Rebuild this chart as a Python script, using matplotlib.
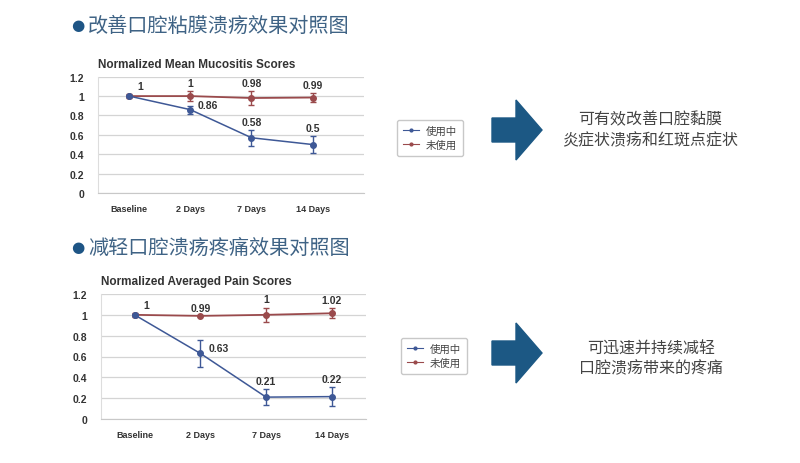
import matplotlib.pyplot as plt
from matplotlib.patches import Polygon
from matplotlib.lines import Line2D

plt.rcParams['font.family'] = ['Noto Sans CJK SC', 'DejaVu Sans']

days = ["Baseline", "2 Days", "7 Days", "14 Days"]

# top chart: mucositis
muco_used = [1, 0.86, 0.57, 0.50]
muco_used_err = [0, 0.04, 0.08, 0.09]
muco_used_lbl = ["", "0.86", "0.58", "0.5"]
muco_none = [1, 1.0, 0.98, 0.985]
muco_none_err = [0.02, 0.05, 0.07, 0.05]
muco_none_lbl = ["1", "1", "0.98", "0.99"]

# bottom chart: pain
pain_used = [1, 0.63, 0.21, 0.215]
pain_used_err = [0, 0.13, 0.08, 0.09]
pain_used_lbl = ["", "0.63", "0.21", "0.22"]
pain_none = [1, 0.99, 1.0, 1.015]
pain_none_err = [0.02, 0.0, 0.07, 0.05]
pain_none_lbl = ["1", "0.99", "1", "1.02"]

legend_names = ["使用中", "未使用"]

BLUE = "#3e5896"
RED = "#9a4a4c"
ARROW = "#1c5884"
LAT = ["Liberation Sans", "DejaVu Sans"]
W, H = 800, 464


def px_axes(fig, left, top, right, bottom):
    return fig.add_axes([left / W, 1 - bottom / H, (right - left) / W, (bottom - top) / H])


def draw_chart(ax, title, used, used_err, used_lbl, none, none_err, none_lbl, xmax, used_side):
    x = list(range(len(days)))
    ax.errorbar(x, none, yerr=none_err, color=RED, marker="o", ms=4, lw=1.3,
                elinewidth=1, capsize=2.5, zorder=3)
    ax.errorbar(x, used, yerr=used_err, color=BLUE, marker="o", ms=4, lw=1.1,
                elinewidth=1, capsize=2.5, zorder=4)
    for i in x:
        if none_lbl[i]:
            dx = 0.18 if i == 0 else 0
            ax.text(i + dx, none[i] + none_err[i] + 0.03, none_lbl[i], ha="center",
                    va="bottom", fontsize=7.5, fontweight="bold", color="#333333",
                    family=LAT)
        if used_lbl[i]:
            if i in used_side:
                ax.text(i + 0.12, used[i] + 0.05, used_lbl[i], ha="left", va="center",
                        fontsize=7.5, fontweight="bold", color="#333333", family=LAT)
            else:
                ax.text(i, used[i] + used_err[i] + 0.03, used_lbl[i], ha="center",
                        va="bottom", fontsize=7.5, fontweight="bold", color="#333333",
                        family=LAT)
    ax.set_xlim(-0.51, xmax)
    ax.set_ylim(0, 1.2)
    ax.set_yticks([0, 0.2, 0.4, 0.6, 0.8, 1, 1.2])
    ax.set_yticklabels(["0", "0.2", "0.4", "0.6", "0.8", "1", "1.2"])
    ax.set_xticks(x)
    ax.set_xticklabels(days)
    for lab in ax.get_xticklabels() + ax.get_yticklabels():
        lab.set_fontweight("bold")
        lab.set_family(LAT)
        lab.set_color("#333333")
    ax.tick_params(axis="x", length=0, labelsize=6.5, pad=8)
    ax.tick_params(axis="y", length=0, labelsize=7.5, pad=10)
    ax.grid(axis="y", color="#d4d4d4", lw=0.9)
    ax.set_axisbelow(True)
    for s in ["top", "right"]:
        ax.spines[s].set_visible(False)
    ax.spines["left"].set_color("#dddddd")
    ax.spines["bottom"].set_color("#c8c8c8")
    ax.set_title(title, loc="left", fontsize=8.5, fontweight="bold", color="#333333",
                 family=LAT, pad=7, x=0.0)


def draw_legend(fig, left, top):
    handles = [Line2D([], [], color=BLUE, marker="o", ms=2, lw=0.8),
               Line2D([], [], color=RED, marker="o", ms=2, lw=0.8)]
    fig.legend(handles, legend_names, loc="upper left",
               bbox_to_anchor=(left / W, 1 - top / H), fontsize=7.5, frameon=True,
               handlelength=1.5, handletextpad=0.7, borderpad=0.55, labelspacing=0.35,
               edgecolor="#bbbbbb", fancybox=True, labelcolor="#444444")


def draw_arrow(fig, cx, cy):
    pts = [(cx, cy - 12), (cx + 24, cy - 12), (cx + 24, cy - 30), (cx + 50, cy),
           (cx + 24, cy + 30), (cx + 24, cy + 12), (cx, cy + 12)]
    fig.patches.append(Polygon([(px / W, 1 - py / H) for px, py in pts], closed=True,
                               transform=fig.transFigure, color=ARROW))


fig = plt.figure(figsize=(8, 4.64), dpi=100)

fig.text(71 / W, 1 - 26 / H, "●", fontsize=11, color="#1e5585", va="center",
         family="DejaVu Sans")
fig.text(88 / W, 1 - 26 / H, "改善口腔粘膜溃疡效果对照图", fontsize=14.5, color="#3f6385",
         va="center")
fig.text(71 / W, 1 - 248 / H, "●", fontsize=11, color="#1e5585", va="center",
         family="DejaVu Sans")
fig.text(88 / W, 1 - 248 / H, "减轻口腔溃疡疼痛效果对照图", fontsize=14.5, color="#3f6385",
         va="center")

ax1 = px_axes(fig, 98, 77.7, 364, 194)
draw_chart(ax1, "Normalized Mean Mucositis Scores", muco_used, muco_used_err,
           muco_used_lbl, muco_none, muco_none_err, muco_none_lbl, 3.84, [1])

ax2 = px_axes(fig, 101, 295, 366, 420)
draw_chart(ax2, "Normalized Averaged Pain Scores", pain_used, pain_used_err,
           pain_used_lbl, pain_none, pain_none_err, pain_none_lbl, 3.52, [1])

draw_legend(fig, 392, 116)
draw_legend(fig, 396, 334)

draw_arrow(fig, 492, 131)
draw_arrow(fig, 492, 354)

fig.text(650 / W, 1 - 120 / H, "可有效改善口腔黏膜", fontsize=11.5, color="#444444",
         ha="center", va="center")
fig.text(650 / W, 1 - 141 / H, "炎症状溃疡和红斑点症状", fontsize=11.5, color="#444444",
         ha="center", va="center")
fig.text(651 / W, 1 - 349 / H, "可迅速并持续减轻", fontsize=11.5, color="#444444",
         ha="center", va="center")
fig.text(651 / W, 1 - 369 / H, "口腔溃疡带来的疼痛", fontsize=11.5, color="#444444",
         ha="center", va="center")

fig.savefig("out.png", dpi=100, facecolor="white")
